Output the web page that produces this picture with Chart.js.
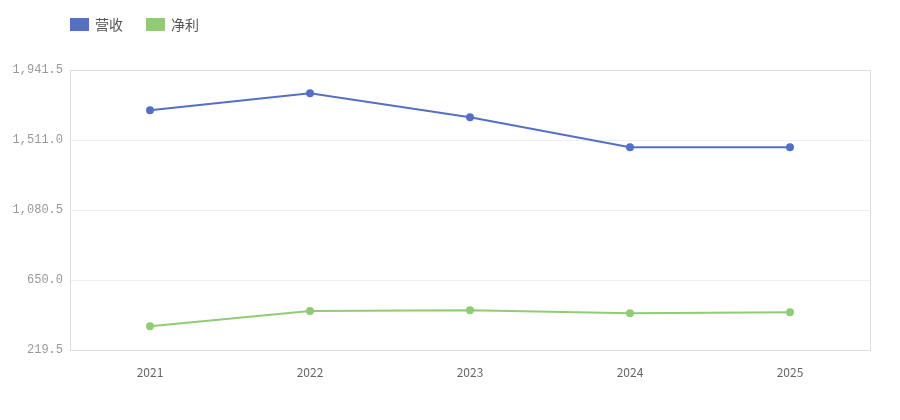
<!DOCTYPE html>
<html lang="zh">
<head>
  <meta charset="UTF-8">
  <title>营收与净利</title>
  <script src="https://cdn.jsdelivr.net/npm/chart.js"></script>
  <style>
    html, body { margin: 0; padding: 0; background: #fff; }
    #wrap { position: relative; width: 900px; height: 420px; }
    #legend {
      position: absolute; left: 70px; top: 14px;
      display: flex; font-family: "Noto Sans CJK SC", sans-serif;
      font-size: 14px; color: #555;
    }
    .item { display: flex; align-items: center; margin-right: 23px; }
    .box { width: 19px; height: 13px; margin-right: 6px; }
  </style>
</head>
<body>
<div id="wrap">
  <div id="legend"></div>
  <canvas id="chart" width="900" height="420"></canvas>
</div>
<script>
const years = ['2021', '2022', '2023', '2024', '2025'];
const revenue = [1694, 1798, 1651, 1466, 1466];
const netProfit = [365, 460, 464, 445, 451];
const yMin = 219.5, yMax = 1941.5, yStep = 430.5;

const seriesNames = ['营收', '净利'];
const seriesColors = ['#5470c6', '#91cc75'];

function fmt(v) {
  return v.toLocaleString('en-US', { minimumFractionDigits: 1, maximumFractionDigits: 1 });
}

// light frame round the plot area
const frame = {
  id: 'frame',
  beforeDatasetsDraw(chart) {
    const a = chart.chartArea, ctx = chart.ctx;
    ctx.save();
    ctx.strokeStyle = '#dddddd';
    ctx.lineWidth = 1;
    ctx.strokeRect(Math.round(a.left) + 0.5, Math.round(a.top) + 0.5,
      Math.round(a.right - a.left), Math.round(a.bottom - a.top));
    ctx.restore();
  }
};

const chart = new Chart(document.getElementById('chart'), {
  type: 'line',
  data: {
    labels: years,
    datasets: [revenue, netProfit].map((d, i) => ({
      label: seriesNames[i],
      data: d,
      borderColor: seriesColors[i],
      backgroundColor: seriesColors[i],
      borderWidth: 2,
      pointRadius: 3,
      pointHoverRadius: 4,
      tension: 0
    }))
  },
  options: {
    responsive: false,
    animation: false,
    layout: { padding: { left: 0, right: 30, top: 70, bottom: 0 } },
    plugins: { legend: { display: false }, tooltip: { enabled: false } },
    scales: {
      x: {
        offset: true,
        grid: { display: false },
        border: { display: false },
        ticks: { color: '#666', padding: 7, font: { family: 'Noto Sans CJK SC', size: 12 } },
        afterFit(s) { s.height = 70; }
      },
      y: {
        min: yMin, max: yMax,
        grid: { color: '#eeeeee', drawTicks: false },
        border: { display: false },
        ticks: {
          stepSize: yStep,
          color: '#999',
          padding: 7,
          font: { family: 'Liberation Mono', size: 12 },
          callback: v => fmt(v)
        },
        afterFit(s) { s.width = 70; }
      }
    }
  },
  plugins: [frame]
});

const legend = document.getElementById('legend');
chart.data.datasets.forEach(ds => {
  const item = document.createElement('div');
  item.className = 'item';
  const box = document.createElement('span');
  box.className = 'box';
  box.style.background = ds.borderColor;
  const txt = document.createElement('span');
  txt.textContent = ds.label;
  item.appendChild(box);
  item.appendChild(txt);
  legend.appendChild(item);
});
</script>
</body>
</html>
